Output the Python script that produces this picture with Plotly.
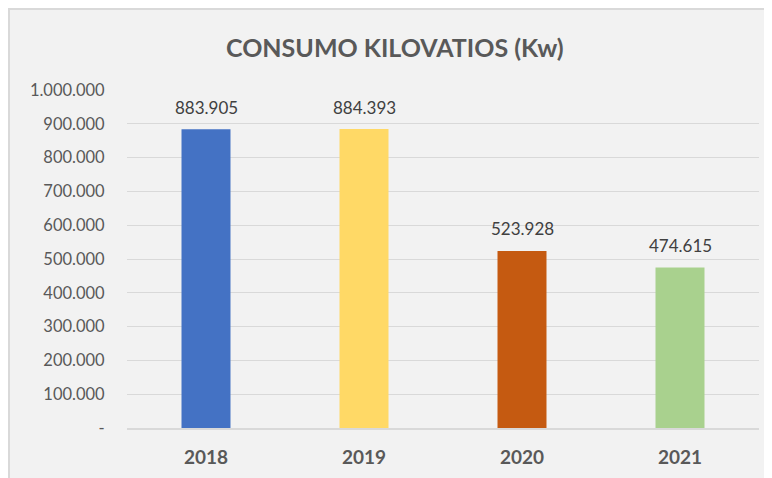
import plotly.graph_objects as go

years = ["2018", "2019", "2020", "2021"]
consumo = [883905, 884393, 523928, 474615]
colors = ["#4472C4", "#FFD966", "#C55A11", "#A9D18E"]
tick_vals = [0, 100000, 200000, 300000, 400000, 500000, 600000, 700000, 800000, 900000, 1000000]
tick_text = ["-", "100.000", "200.000", "300.000", "400.000", "500.000", "600.000",
             "700.000", "800.000", "900.000", "1.000.000"]
title = "CONSUMO KILOVATIOS (Kw)"

# page body has an 8px margin, so the figure starts at (8, 8) on screen
W, H = 764, 470
L, R, T, B = 119, 13, 82, 50
pw, ph = W - L - R, H - T - B

def px_x(px):
    return (px - L) / pw

def px_y(py):
    return (H - B - py) / ph

fig = go.Figure()
fig.add_trace(go.Bar(
    x=years, y=consumo, marker=dict(color=colors, line=dict(width=0)),
    hoverinfo="skip", showlegend=False,
))

for i, v in enumerate(consumo):
    fig.add_annotation(x=i, y=v, text=f"{v:,}".replace(",", "."), showarrow=False,
                       yshift=22, font=dict(family="Lato", size=17, color="#404040"))

fig.add_annotation(xref="paper", yref="paper", x=px_x(387), y=px_y(39), text="<b>" + title + "</b>",
                   showarrow=False, xanchor="center", yanchor="middle",
                   font=dict(family="Lato", size=25, color="#595959"))

fig.add_shape(type="rect", xref="paper", yref="paper", layer="below",
              x0=px_x(1), x1=px_x(W + 20), y0=px_y(1), y1=px_y(H + 20),
              fillcolor="#F2F2F2", line=dict(color="#D9D9D9", width=2))

fig.update_layout(
    width=W, height=H,
    margin=dict(l=L, r=R, t=T, b=B, pad=0, autoexpand=False),
    paper_bgcolor="#F2F2F2", plot_bgcolor="rgba(0,0,0,0)",
    bargap=0.69,
    font=dict(family="Lato", color="#595959"),
)
fig.update_xaxes(type="category", range=[-0.5, len(years) - 0.5],
                 showline=True, linecolor="#D9D9D9", linewidth=2, showgrid=False,
                 tickfont=dict(family="Lato", size=19, color="#595959"),
                 tickvals=years, ticktext=["<b>" + y + "</b>" for y in years],
                 ticks="outside", ticklen=11, tickcolor="rgba(0,0,0,0)", automargin=False)
fig.update_yaxes(range=[0, 1000000], tickvals=tick_vals, ticktext=tick_text,
                 showgrid=True, gridcolor="#D9D9D9", gridwidth=1, zeroline=False,
                 showline=False, ticks="outside", ticklen=18, tickcolor="rgba(0,0,0,0)",
                 automargin=False,
                 tickfont=dict(family="Lato", size=16.5, color="#595959"))

fig.write_html("out.html")
